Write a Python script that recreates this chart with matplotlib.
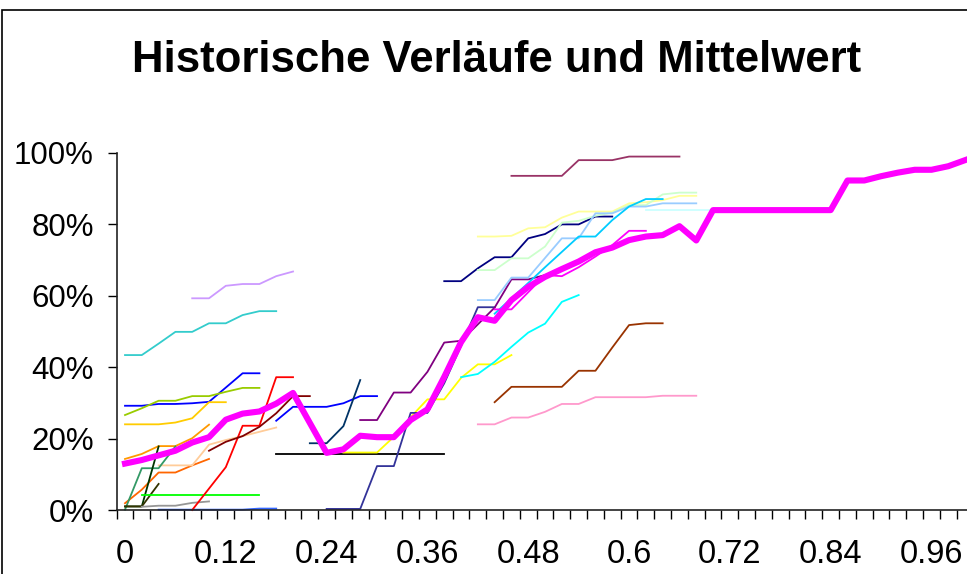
import numpy as np
import matplotlib
matplotlib.use('Agg')
import matplotlib.pyplot as plt
from matplotlib.patches import Rectangle

plt.rcParams['font.family'] = ['Liberation Sans', 'DejaVu Sans']

# categories 0 .. 1.0 in steps of 0.02, every 6th one is labelled
cats = np.round(np.arange(51) * 0.02, 2)
tick_labels = ['0', '0.12', '0.24', '0.36', '0.48', '0.6', '0.72', '0.84', '0.96']

# mean curve (percent)
mean_pct = [13.0, 14.0, 15.3, 16.6, 18.9, 20.4, 25.3, 27.0, 27.6, 29.8,
            32.8, 24.4, 16.0, 17.0, 20.8, 20.4, 20.4, 25.2, 28.2, 37.3,
            47.0, 54.0, 53.0, 58.8, 62.5, 65.3, 67.5, 69.6, 72.2, 73.5,
            75.6, 76.6, 77.0, 79.5, 75.5, 84.0, 84.0, 84.0, 84.0, 84.0,
            84.0, 84.0, 84.0, 92.3, 92.3, 93.5, 94.5, 95.3, 95.3, 96.3,
            98.0]

# historical curves (percent), each with the first category it starts at
teal = [43.4, 43.4, 46.6, 49.9, 49.9, 52.3, 52.3, 54.6, 55.7, 55.7]
lavender = [59.3, 59.3, 62.8, 63.3, 63.3, 65.5, 66.8]
blue = [29.2, 29.2, 29.7, 29.7, 29.9, 30.3, 34.3, 38.3, 38.3]
yellowgreen = [26.6, 28.5, 30.6, 30.6, 31.9, 31.9, 33.1, 34.2, 34.2]
gold = [24.0, 24.0, 24.0, 24.5, 25.7, 30.2, 30.2]
orange = [14.3, 15.7, 17.9, 17.9, 20.1, 23.9]
orange2 = [1.9, 5.7, 10.5, 10.5, 12.5, 14.3]
peach = [12.5, 12.5, 12.5, 18.3, 19.6, 20.7, 21.9, 23.1]
seagreen = [0.1, 11.7, 11.7, 17.8]
darkgreen = [1.0, 1.0, 17.8]
olive = [1.0, 1.0, 7.3]
green = [4.2, 4.2, 4.2, 4.2, 4.2, 4.2, 4.2, 4.2]
gray = [0.9, 1.2, 1.2, 2.0, 2.4]
blue_low = [0.1, 0.1, 0.1, 0.1, 0.1, 0.1, 0.4, 0.4]
red = [0.0, 6.0, 12.0, 23.6, 23.6, 37.2, 37.2]
maroon = [16.6, 19.1, 20.7, 23.3, 27.1, 31.9, 31.9]
blue2 = [25.0, 28.9, 28.9, 28.9, 29.9, 31.9, 31.9]
slate = [18.7, 18.7, 23.5, 36.4]
black = [15.6] * 11
yellow = [16.1, 16.1, 16.1, 20.5, 26.0, 31.0, 31.0, 37.0, 40.8, 40.8, 43.4]
indigo = [0.3, 0.3, 0.3, 12.3, 12.3, 27.2, 27.2, 35.5, 46.0, 56.8, 56.8]
purple = [25.2, 25.2, 32.9, 32.9, 38.7, 46.9, 47.4, 52.0, 56.7, 64.6, 64.6, 65.8]
cyan = [37.2, 38.1, 41.5, 45.7, 49.7, 52.2, 58.3, 60.2]
brown = [30.2, 34.5, 34.5, 34.5, 34.5, 39.0, 39.0, 45.5, 51.8, 52.3, 52.3]
pink = [24.0, 24.0, 25.9, 25.9, 27.5, 29.7, 29.7, 31.6, 31.6, 31.6, 31.6,
        32.0, 32.0, 32.0]
plum = [93.6, 93.6, 93.6, 93.6, 98.0, 98.0, 98.0, 99.0, 99.0, 99.0, 99.0]
navy = [64.1, 64.1, 67.7, 70.8, 70.8, 76.1, 77.3, 80.0, 80.0, 82.2, 82.2]
lightyellow = [76.6, 76.6, 76.8, 78.9, 79.2, 81.9, 83.6, 83.6, 83.6, 85.9,
               86.2, 86.8, 88.0, 88.0]
lightgreen = [67.2, 67.2, 70.5, 70.5, 73.8, 80.5, 81.0, 82.4, 83.3, 85.4,
              85.4, 88.4, 88.9, 88.9]
lightblue = [58.8, 58.8, 65.1, 65.1, 70.6, 76.1, 76.1, 83.1, 83.1, 85.0,
             85.0, 85.9, 85.9, 85.9]
skyblue = [55.0, 59.3, 63.6, 68.0, 72.3, 76.6, 76.6, 81.2, 85.0, 87.1, 87.1]
lightcyan = [84.0, 84.0, 84.0, 84.0, 84.0]
magenta_thin = [56.2, 56.2, 61.0, 65.8, 65.5, 68.0, 71.0, 74.2, 78.2, 78.2]

series = [teal, lavender, blue, yellowgreen, gold, orange, orange2, peach,
          seagreen, darkgreen, olive, green, gray, blue_low, red, maroon,
          blue2, slate, black, yellow, indigo, purple, cyan, brown, pink,
          plum, navy, lightyellow, lightgreen, lightblue, skyblue,
          lightcyan, magenta_thin]
starts = [0, 4, 0, 0, 0, 0, 0, 2, 0, 0, 0, 1, 1, 2, 4, 5, 9, 11, 9, 13, 12,
          14, 20, 22, 21, 23, 19, 21, 21, 21, 22, 31, 22]
colors = ['#33CCCC', '#CC99FF', '#0000FF', '#99CC00', '#FFCC00', '#FF9900',
          '#FF6600', '#FFCC99', '#339966', '#003300', '#333300', '#00FF00',
          '#969696', '#3366FF', '#FF0000', '#800000', '#0000FF', '#003366',
          '#000000', '#FFFF00', '#333399', '#800080', '#00FFFF', '#993300',
          '#FF99CC', '#993366', '#000080', '#FFFF99', '#CCFFCC', '#99CCFF',
          '#00CCFF', '#CCFFFF', '#FF00FF']

fig = plt.figure(figsize=(9.67, 5.74), dpi=100)
ax = fig.add_axes([116.6 / 967, 64 / 574, 856.9 / 967, 357 / 574])

for vals, s, c in zip(series, starts, colors):
    ax.plot(cats[s:s + len(vals)], vals, color=c, lw=1.3, clip_on=False)

ax.plot(cats, mean_pct, color='#FF00FF', lw=4.4, clip_on=False, zorder=5)

ax.set_xlim(-0.01, 1.01)
ax.set_ylim(0, 100)
ax.set_xticks(cats[::6])
ax.set_xticklabels(tick_labels)
ax.set_xticks(np.round(np.arange(52) * 0.02 - 0.01, 3), minor=True)
ax.tick_params(axis='x', which='major', length=0, pad=21, labelsize=23.5)
ax.tick_params(axis='x', which='minor', length=6.5, width=1.0, direction='out')
ax.set_yticks([0, 20, 40, 60, 80, 100])
ax.set_yticklabels(['0%', '20%', '40%', '60%', '80%', '100%'])
ax.tick_params(axis='y', length=6.5, width=1.0, pad=10, labelsize=22.5)

for side in ['top', 'right']:
    ax.spines[side].set_visible(False)
for side in ['left', 'bottom']:
    ax.spines[side].set_linewidth(1.2)
    ax.spines[side].set_color('#222222')

fig.text(497 / 967, 1 - 61 / 574, 'Historische Verläufe und Mittelwert',
         ha='center', va='center', fontsize=31.5, fontweight='bold')

# chart area border
fig.patches.append(Rectangle((2 / 967, -0.1), 1.2, 1.1 - 10 / 574,
                             transform=fig.transFigure, fill=False,
                             lw=1.2, ec='black'))

fig.savefig('out.png', dpi=100)
